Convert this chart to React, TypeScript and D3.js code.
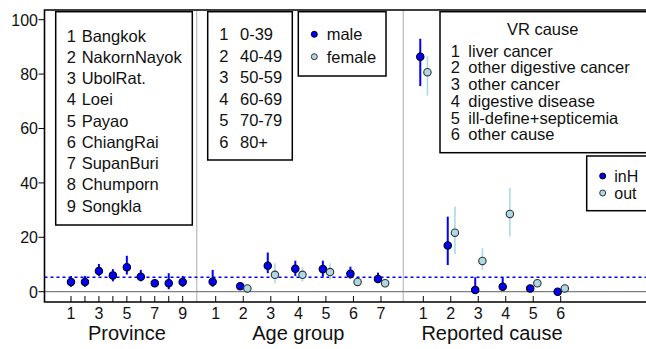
import React from 'react';
import * as d3 from 'd3';

// province panel (male only)
const provinceNames = ['Bangkok', 'NakornNayok', 'UbolRat.', 'Loei', 'Payao', 'ChiangRai', 'SupanBuri', 'Chumporn', 'Songkla'];
const provinceEst = [3.6, 3.6, 7.6, 6.0, 9.0, 5.5, 3.1, 3.1, 3.6];
const provinceLo = [1.8, 1.8, 5.8, 3.8, 6.3, 3.8, 1.7, 0.9, 1.8];
const provinceHi = [5.8, 5.8, 10.2, 8.3, 13.2, 8.0, 4.0, 6.8, 5.8];
const provinceTickLabels = ['1', '3', '5', '7', '9'];

// age group panel
const ageLabels = ['0-39', '40-49', '50-59', '60-69', '70-79', '80+'];
const maleAge = [3.7, 2.0, 9.5, 8.4, 8.3, 6.6, 4.7];
const maleAgeLo = [1.8, 1.2, 6.8, 5.8, 5.5, 4.8, 3.3];
const maleAgeHi = [8.0, 2.8, 14.4, 11.4, 11.4, 9.2, 7.0];
const femaleAge = [NaN, 1.2, 6.2, 6.2, 7.2, 3.6, 3.1];
const femaleAgeLo = [NaN, 0.8, 3.1, 3.7, 4.5, 2.4, 2.2];
const femaleAgeHi = [NaN, 1.6, 10.5, 9.0, 10.5, 4.8, 4.0];

// reported cause panel
const causeNames = ['liver cancer', 'other digestive cancer', 'other cancer', 'digestive disease', 'ill-define+septicemia', 'other cause'];
const inH = [86.4, 17.0, 0.6, 1.8, 1.2, 0.0];
const inHLo = [75.6, 9.8, 0, 0.6, 0.5, 0];
const inHHi = [93.0, 27.6, 5.3, 5.3, 2.0, 0.5];
const out = [80.7, 21.7, 11.3, 28.6, 3.1, 1.2];
const outLo = [72.1, 13.8, 8.0, 20.3, 2.4, 0.8];
const outHi = [86.6, 31.3, 16.0, 38.1, 3.8, 1.6];

const refLine = 5.3;
const yTicks = [0, 20, 40, 60, 80, 100];

const FONT = 'Liberation Sans, Arial, sans-serif';
const BLUE = '#0000ff';
const LIGHT = '#add8e6';

const W = 646;
const H = 349;
const left = 44.5;
const top = 10;
const bottom = 302;

const y = d3.scaleLinear().domain([0, 100]).range([291.7, 19.7]);
const xProv = d3.scaleLinear().domain([1, 9]).range([71, 182.7]);
const xAge = d3.scaleLinear().domain([1, 7]).range([215.7, 381]);
const xCause = d3.scaleLinear().domain([1, 6]).range([423.3, 560.7]);

const T = ({ x, y, size = 16.5, anchor = 'start', children }: any) => (
  <text x={x} y={y} fontSize={size} textAnchor={anchor} fontFamily={FONT} fill="#111">
    {children}
  </text>
);

const Point = ({ cx, est, lo, hi, male }: any) => {
  if (isNaN(est)) return null;
  return (
    <g>
      <line x1={cx} x2={cx} y1={y(lo)} y2={y(hi)} stroke={male ? BLUE : LIGHT} strokeWidth={male ? 2 : 1.6} />
      <circle cx={cx} cy={y(est)} r={3.7} fill={male ? BLUE : LIGHT} stroke={male ? '#000' : '#333'} strokeWidth={1.1} />
    </g>
  );
};

const XAxis = ({ scale, ticks, labels, title }: any) => {
  const [a, b] = scale.range();
  return (
    <g>
      {ticks.map((t: number) => (
        <line key={t} x1={scale(t)} x2={scale(t)} y1={bottom} y2={bottom - 6} stroke="#000" strokeWidth={1} />
      ))}
      {labels.map((l: string) => (
        <T key={l} x={scale(+l)} y={319} size={16} anchor="middle">{l}</T>
      ))}
      <T x={(a + b) / 2} y={340} size={20} anchor="middle">{title}</T>
    </g>
  );
};

export default function App() {
  const dx = (xAge(2) - xAge(1));
  return (
    <svg width={W} height={H} style={{ position: 'absolute', left: 0, top: 0, background: '#fff' }}>
      {/* panel separators */}
      <line x1={196.7} x2={196.7} y1={top} y2={bottom} stroke="#c0c0c0" strokeWidth={1.3} />
      <line x1={403.3} x2={403.3} y1={top} y2={bottom} stroke="#c0c0c0" strokeWidth={1.3} />
      {/* zero line */}
      <line x1={left} x2={W} y1={y(0)} y2={y(0)} stroke="#808080" strokeWidth={1.3} />
      {/* reference line */}
      <line x1={left} x2={W} y1={y(refLine)} y2={y(refLine)} stroke={BLUE} strokeWidth={1.6} strokeDasharray="3,3" />

      {/* legends */}
      <rect x={55.7} y={11.7} width={136.6} height={213.3} fill="#fff" stroke="#000" strokeWidth={1.5} />
      {provinceNames.map((n, i) => (
        <g key={n}>
          <T x={66.7} y={35.7 + i * 21.25 + 6}>{i + 1}</T>
          <T x={81.7} y={35.7 + i * 21.25 + 6}>{n}</T>
        </g>
      ))}
      <rect x={207.7} y={11.7} width={84.6} height={148.3} fill="#fff" stroke="#000" strokeWidth={1.5} />
      {ageLabels.map((n, i) => (
        <g key={n}>
          <T x={219.3} y={34.3 + i * 21.5 + 6}>{i + 1}</T>
          <T x={240} y={34.3 + i * 21.5 + 6}>{n}</T>
        </g>
      ))}
      <rect x={298.3} y={11.7} width={87.7} height={64.3} fill="#fff" stroke="#000" strokeWidth={1.5} />
      {['male', 'female'].map((n, i) => (
        <g key={n}>
          <circle cx={314.3} cy={34.3 + i * 22.4} r={3} fill={i ? LIGHT : BLUE} stroke={i ? '#333' : '#000'} />
          <T x={326.7} y={34.3 + i * 22.4 + 6}>{n}</T>
        </g>
      ))}
      <rect x={440} y={11.7} width={220} height={141} fill="#fff" stroke="#000" strokeWidth={1.5} />
      <T x={542.7} y={35} anchor="middle">VR cause</T>
      {causeNames.map((n, i) => (
        <g key={n}>
          <T x={450.7} y={50.7 + i * 16.7 + 6}>{i + 1}</T>
          <T x={468.3} y={50.7 + i * 16.7 + 6}>{n}</T>
        </g>
      ))}
      <rect x={586.7} y={156} width={80} height={54.7} fill="#fff" stroke="#000" strokeWidth={1.5} />
      {['inH', 'out'].map((n, i) => (
        <g key={n}>
          <circle cx={602.7} cy={176 + i * 17} r={3} fill={i ? LIGHT : BLUE} stroke={i ? '#333' : '#000'} />
          <T x={614.3} y={176 + i * 17 + 5.5} size={16}>{n}</T>
        </g>
      ))}

      {/* province points */}
      {provinceEst.map((v, i) => (
        <Point key={'p' + i} cx={xProv(i + 1)} est={v} lo={provinceLo[i]} hi={provinceHi[i]} male />
      ))}
      {/* age points */}
      {maleAge.map((v, i) => (
        <g key={'a' + i}>
          <Point cx={xAge(i + 1) - 0.11 * dx} est={v} lo={maleAgeLo[i]} hi={maleAgeHi[i]} male />
          <Point cx={xAge(i + 1) + 0.15 * dx} est={femaleAge[i]} lo={femaleAgeLo[i]} hi={femaleAgeHi[i]} />
        </g>
      ))}
      {/* cause points */}
      {inH.map((v, i) => (
        <g key={'c' + i}>
          <Point cx={xCause(i + 1) - 0.11 * dx} est={v} lo={inHLo[i]} hi={inHHi[i]} male />
          <Point cx={xCause(i + 1) + 0.15 * dx} est={out[i]} lo={outLo[i]} hi={outHi[i]} />
        </g>
      ))}

      {/* frame */}
      <path d={`M${W + 2},${top}H${left}V${bottom}H${W + 2}`} fill="none" stroke="#000" strokeWidth={1.6} />
      {/* y axis */}
      {yTicks.map((t) => (
        <g key={t}>
          <line x1={left - 6} x2={left} y1={y(t)} y2={y(t)} stroke="#000" strokeWidth={1} />
          <T x={38} y={y(t) + 5.8} size={16} anchor="end">{t}</T>
        </g>
      ))}

      <XAxis scale={xProv} ticks={d3.range(1, 10)} labels={provinceTickLabels} title="Province" />
      <XAxis scale={xAge} ticks={d3.range(1, 8)} labels={d3.range(1, 8).map(String)} title="Age group" />
      <XAxis scale={xCause} ticks={d3.range(1, 7)} labels={d3.range(1, 7).map(String)} title="Reported cause" />
    </svg>
  );
}
